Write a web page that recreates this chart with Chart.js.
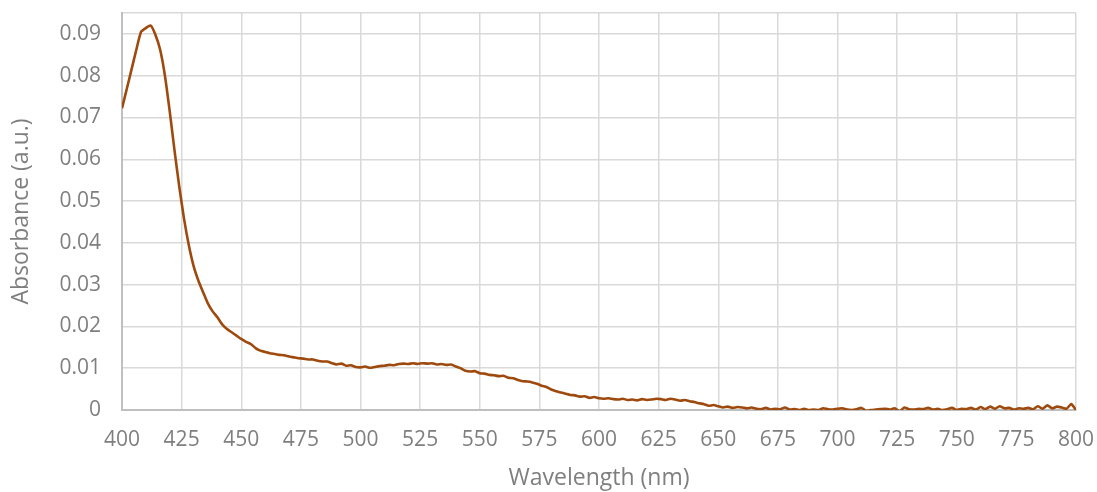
<!DOCTYPE html>
<html>
<head>
<meta charset="utf-8">
<script src="https://cdn.jsdelivr.net/npm/chart.js@4/dist/chart.umd.min.js"></script>
<style>
  html, body { margin: 0; padding: 0; background: #fff; }
  #wrap { width: 1097px; height: 492px; }
</style>
</head>
<body>
<div id="wrap"><canvas id="grafico" width="1097" height="492"></canvas></div>
<script>
// longitudes de onda, cada 2 nm
const wavelengths = [];
for (let w = 400; w <= 800; w += 2) wavelengths.push(w);

// absorbancia
const absorbance = [
  0.0722, 0.0768, 0.0815, 0.0862, 0.0905, 0.0914, 0.0920, 0.0898, 0.0862, 0.0800,
  0.0715, 0.0622, 0.0535, 0.0458, 0.0395, 0.0345, 0.0310, 0.0282, 0.0255, 0.0236,
  0.0222, 0.0205, 0.0194, 0.0186, 0.0178, 0.0170, 0.0163, 0.0158, 0.0148, 0.0142,
  0.0139, 0.0136, 0.0134, 0.0132, 0.0131, 0.0128, 0.0126, 0.0124, 0.0123, 0.0121,
  0.0121, 0.0118, 0.0116, 0.0116, 0.0112, 0.0109, 0.0111, 0.0106, 0.0107, 0.0103,
  0.0102, 0.0104, 0.0101, 0.0103, 0.0105, 0.0106, 0.0108, 0.0107, 0.0110, 0.0111,
  0.0110, 0.0112, 0.0110, 0.0112, 0.0111, 0.0112, 0.0109, 0.0110, 0.0108, 0.0109,
  0.0104, 0.0100, 0.0094, 0.0092, 0.0093, 0.0088, 0.0087, 0.0084, 0.0083, 0.0081,
  0.0082, 0.0077, 0.0076, 0.0072, 0.0069, 0.0068, 0.0066, 0.0063, 0.0058, 0.0055,
  0.0049, 0.0045, 0.0042, 0.0039, 0.0036, 0.0035, 0.0032, 0.0033, 0.0029, 0.0031,
  0.0028, 0.0027, 0.0028, 0.0026, 0.0025, 0.0027, 0.0024, 0.0025, 0.0023, 0.0026,
  0.0024, 0.0025, 0.0027, 0.0026, 0.0024, 0.0027, 0.0025, 0.0022, 0.0024, 0.0021,
  0.0019, 0.0016, 0.0014, 0.0010, 0.0012, 0.0009, 0.0006, 0.0008, 0.0005, 0.0007,
  0.0006, 0.0004, 0.0006, 0.0003, 0.0002, 0.0005, 0.0001, 0.0003, 0.0002, 0.0006,
  0.0001, 0.0002, 0.0000, 0.0003, 0.0000, 0.0001, 0.0000, 0.0004, 0.0002, 0.0001,
  0.0003, 0.0004, 0.0001, 0.0000, 0.0002, 0.0005, -0.0002, 0.0000, 0.0001, 0.0002,
  0.0003, 0.0001, 0.0004, -0.0003, 0.0006, 0.0002, 0.0001, 0.0003, 0.0002, 0.0005,
  0.0001, 0.0003, 0.0000, 0.0002, 0.0005, 0.0000, 0.0003, 0.0002, 0.0005, 0.0001,
  0.0007, 0.0002, 0.0008, 0.0003, 0.0009, 0.0004, 0.0005, 0.0001, 0.0004, 0.0003,
  0.0005, 0.0002, 0.0009, 0.0003, 0.0011, 0.0004, 0.0008, 0.0006, 0.0003, 0.0014,
  0.0000
];

const xTicks = [400, 425, 450, 475, 500, 525, 550, 575, 600, 625, 650, 675, 700, 725, 750, 775, 800];
const yTicks = [0, 0.01, 0.02, 0.03, 0.04, 0.05, 0.06, 0.07, 0.08, 0.09];

const textColor = '#7f7f7f';
const gridColor = '#d9d9d9';
const fuente = { family: '"Open Sans", sans-serif', size: 21 };
const fuenteTitulo = { family: '"Open Sans", sans-serif', size: 23 };

const puntos = wavelengths.map((w, i) => ({ x: w, y: absorbance[i] }));

new Chart(document.getElementById('grafico').getContext('2d'), {
  type: 'line',
  data: {
    datasets: [{
      data: puntos,
      borderColor: '#9e4a0e',
      borderWidth: 2.6,
      pointRadius: 0,
      tension: 0.2,
      fill: false
    }]
  },
  options: {
    responsive: false,
    animation: false,
    events: [],
    layout: { padding: 0 },
    plugins: { legend: { display: false }, tooltip: { enabled: false } },
    scales: {
      x: {
        type: 'linear',
        min: 400,
        max: 800,
        afterBuildTicks: scale => { scale.ticks = xTicks.map(v => ({ value: v })); },
        afterFit: scale => {
          scale.height = 82;
          scale.paddingRight = 21;
          scale.paddingLeft = 0;
        },
        grid: { color: gridColor, lineWidth: 1.5, drawTicks: false },
        border: { color: '#bfbfbf', width: 2 },
        ticks: { color: textColor, font: fuente, padding: 17, maxRotation: 0 },
        title: { display: true, text: 'Wavelength (nm)', color: textColor, font: fuenteTitulo, padding: { top: 0, bottom: 0 } }
      },
      y: {
        min: 0,
        max: 0.095,
        afterBuildTicks: scale => {
          scale.ticks = yTicks.map(v => ({ value: v })).concat([{ value: 0.095 }]);
        },
        afterFit: scale => {
          scale.width = 122;
          scale.paddingTop = 13;
          scale.paddingBottom = 0;
        },
        grid: { color: gridColor, lineWidth: 1.5, drawTicks: false },
        border: { color: '#bfbfbf', width: 2 },
        ticks: {
          color: textColor,
          font: fuente,
          padding: 21,
          callback: v => (v === 0.095 ? '' : (v === 0 ? '0' : v.toFixed(2)))
        },
        title: { display: true, text: 'Absorbance (a.u.)', color: textColor, font: fuenteTitulo, padding: { top: 8, bottom: 0 } }
      }
    }
  }
});
</script>
</body>
</html>
